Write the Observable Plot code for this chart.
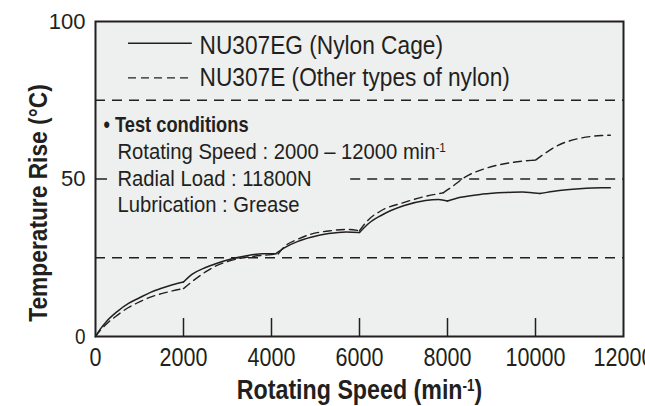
<!DOCTYPE html>
<html><head><meta charset="utf-8">
<script src="https://cdn.jsdelivr.net/npm/d3@7"></script>
<script src="https://cdn.jsdelivr.net/npm/@observablehq/plot@0.6"></script>
<style>body{margin:0;background:#fff}</style>
</head><body><div id="chart"></div>
<script>
// ---- data ----
const speedEG = [0,100,250,500,750,1000,1250,1500,1750,2000,2200,2500,2750,3000,3500,3800,4100,4300,4600,4900,5300,5700,6000,6200,6500,7000,7500,7800,8000,8300,8800,9300,9700,10100,10500,11000,11500,11700];
const riseEG  = [0,2.2,4.8,8.0,10.5,12.3,14.0,15.3,16.4,17.3,19.8,21.9,23.2,24.3,25.8,26.3,26.3,28.2,30.2,31.5,32.7,33.2,33.0,35.8,38.5,41.5,43.2,43.5,43.0,44.2,45.2,45.7,45.9,45.4,46.3,46.9,47.2,47.2];
const kinksEG = [2000,4100,6000,8000,10100];

const speedE = [0,100,250,500,750,1000,1250,1500,1750,2000,2200,2500,2750,3000,3500,4000,4150,4300,4600,4900,5300,5700,6000,6200,6500,7000,7500,7900,8100,8400,8900,9500,9900,10000,10200,10500,11000,11500,11700];
const riseE  = [0,1.8,4.0,6.8,9.2,11.0,12.5,13.6,14.5,15.2,17.5,20.5,22.5,23.8,25.3,26.0,26.2,28.6,30.9,32.5,33.5,34.0,33.6,37.0,40.0,42.5,44.5,45.6,47.5,50.6,53.5,55.3,55.9,56.0,58.0,60.6,62.9,63.8,63.9];
const kinksE = [2000,4150,6000,7900,10000];

const xTicks = [0,2000,4000,6000,8000,10000,12000];
const innerXTicks = [2000,4000,6000,8000,10000];
const yTicks = [0,50,100];
const innerYTicks = [50];
const gridFull = [25,75];
const gridPartial = [50];
const seriesNames = ["NU307EG (Nylon Cage)", "NU307E (Other types of nylon)"];
const conditionTitle = "• Test conditions";
const conditionLines = ["Rotating Speed : 2000 – 12000 min^-1", "Radial Load : 11800N", "Lubrication : Grease"];
const xLabel = "Rotating Speed (min^-1)";
const yLabel = "Temperature Rise (°C)";

// ---- helpers ----
function segments(xs, ys, kinks, name) {
  const bounds = [xs[0], ...kinks, xs[xs.length - 1]];
  const rows = [];
  for (let s = 0; s < bounds.length - 1; s++) {
    xs.forEach((x, i) => {
      if (x >= bounds[s] && x <= bounds[s + 1]) rows.push({x, y: ys[i], seg: name + s});
    });
  }
  return rows;
}
const dataEG = segments(speedEG, riseEG, kinksEG, "EG");
const dataE = segments(speedE, riseE, kinksE, "E");

const ink = "#231f20";
const sans = "'Liberation Sans', Arial, Helvetica, sans-serif";
const condLine = (i, dy) => Plot.text([conditionLines[i]], {frameAnchor: "top-left", dx: 22, dy, lineAnchor: "bottom", textAnchor: "start", fontSize: 21.5, fill: ink});

const chart = Plot.plot({
  width: 645, height: 406,
  marginLeft: 95, marginRight: 22, marginTop: 21, marginBottom: 70,
  style: {fontFamily: sans, color: ink, background: "#fff"},
  x: {domain: [0, 12000]},
  y: {domain: [0, 100]},
  marks: [
    Plot.frame({fill: "#eef0ef", stroke: null}),
    Plot.ruleY(gridFull, {stroke: ink, strokeWidth: 1.3, strokeDasharray: "10,7"}),
    Plot.ruleY(gridPartial, {x1: 5800, x2: 12000, stroke: ink, strokeWidth: 1.3, strokeDasharray: "10,7"}),
    Plot.line(dataE, {x: "x", y: "y", z: "seg", curve: "monotone-x", stroke: ink, strokeWidth: 1.4, strokeDasharray: "8,5"}),
    Plot.line(dataEG, {x: "x", y: "y", z: "seg", curve: "monotone-x", stroke: ink, strokeWidth: 1.5}),
    // legend
    Plot.ruleY([93.1], {x1: 750, x2: 2200, stroke: ink, strokeWidth: 1.4}),
    Plot.ruleY([82.1], {x1: 750, x2: 2200, stroke: ink, strokeWidth: 1.4, strokeDasharray: "8,5"}),
    Plot.text([seriesNames[0]], {frameAnchor: "top-left", dx: 104, dy: 32.5, lineAnchor: "bottom", textAnchor: "start", fontSize: 25.5, fill: ink}),
    Plot.text([seriesNames[1]], {frameAnchor: "top-left", dx: 104, dy: 64, lineAnchor: "bottom", textAnchor: "start", fontSize: 25.5, fill: ink}),
    // test conditions
    Plot.text([conditionTitle], {frameAnchor: "top-left", dx: 8, dy: 110.7, lineAnchor: "bottom", textAnchor: "start", fontSize: 22, fontWeight: "bold", fill: ink}),
    condLine(0, 137.3),
    condLine(1, 164),
    condLine(2, 190.5),
    // axes
    Plot.axisX({ticks: xTicks, tickSize: 0, tickPadding: 12, fontSize: 25, tickFormat: d3.format("d"), label: null}),
    Plot.axisX({ticks: innerXTicks, tickSize: 18, dy: -18, text: null, label: null, strokeWidth: 1.5}),
    Plot.axisY({ticks: yTicks, tickSize: 0, tickPadding: 10, fontSize: 22, label: null}),
    Plot.axisY({ticks: innerYTicks, tickSize: 12, dx: 12, text: null, label: null, strokeWidth: 1.5}),
    Plot.text([xLabel], {frameAnchor: "bottom", dy: 62, lineAnchor: "bottom", textAnchor: "middle", fontSize: 27, fontWeight: "bold", fill: ink}),
    Plot.text([yLabel], {frameAnchor: "left", rotate: -90, dx: -57, dy: 24, lineAnchor: "middle", textAnchor: "middle", fontSize: 26, fontWeight: "bold", fill: ink}),
    Plot.frame({stroke: ink, strokeWidth: 2})
  ]
});

// superscripts
const ns = "http://www.w3.org/2000/svg";
const walker = document.createTreeWalker(chart, NodeFilter.SHOW_TEXT);
const nodes = [];
while (walker.nextNode()) nodes.push(walker.currentNode);
nodes.forEach(n => {
  if (!n.nodeValue.includes("^-1")) return;
  const parts = n.nodeValue.split("^-1");
  const frag = document.createDocumentFragment();
  parts.forEach((p, i) => {
    if (i > 0) {
      const s = document.createElementNS(ns, "tspan");
      s.setAttribute("baseline-shift", "super");
      s.setAttribute("font-size", "58%");
      s.textContent = "-1";
      frag.appendChild(s);
    }
    if (p) {
      const t = document.createElementNS(ns, "tspan");
      t.textContent = p;
      frag.appendChild(t);
    }
  });
  n.parentNode.replaceChild(frag, n);
});

document.getElementById("chart").appendChild(chart);

// condensed lettering (the reference uses a condensed face)
const plain = s => s.replace("^-1", "-1");
const factors = new Map();
xTicks.forEach(t => factors.set(String(t), 0.86));
seriesNames.forEach(s => factors.set(s, 0.89));
conditionLines.forEach(s => factors.set(plain(s), 0.94));
factors.set(conditionTitle, 0.83);
factors.set(plain(xLabel), 0.86);
factors.set(yLabel, 0.875);
chart.querySelectorAll("text").forEach(t => {
  const f = factors.get(t.textContent);
  if (!f) return;
  const len = t.getComputedTextLength();
  t.setAttribute("textLength", (len * f).toFixed(2));
  t.setAttribute("lengthAdjust", "spacingAndGlyphs");
});
</script>
</body></html>
